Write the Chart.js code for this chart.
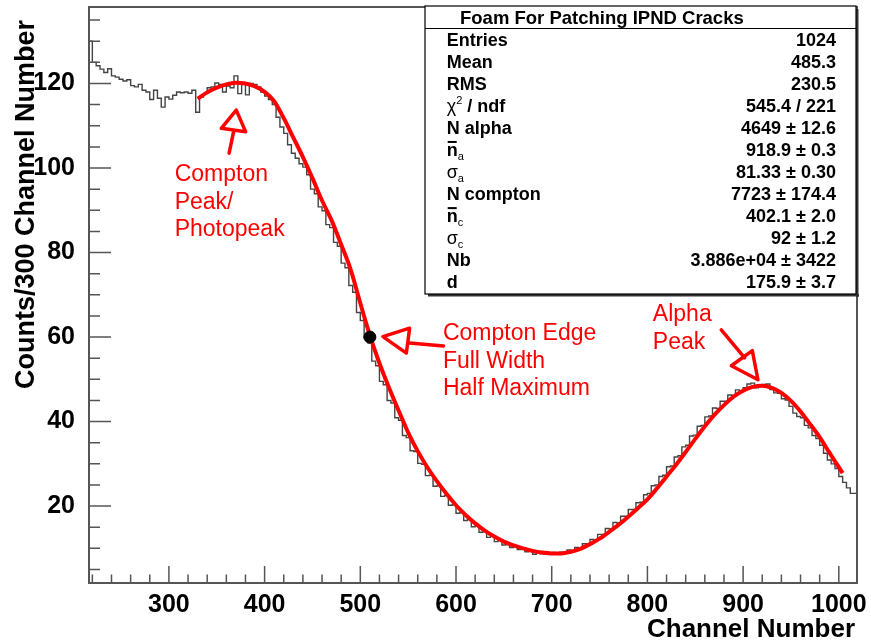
<!DOCTYPE html>
<html>
<head>
<meta charset="utf-8">
<script src="https://cdn.jsdelivr.net/npm/chart.js@4.4.0/dist/chart.umd.min.js"></script>
<style>
  html, body { margin: 0; padding: 0; background: #fff; }
  canvas { display: block; }
</style>
</head>
<body>
<canvas id="myChart" width="871" height="643"></canvas>
<script>
// histogram: bins of 4 channels starting at channel 216
const binStart = 216;
const binWidth = 4;
const counts = [
  131.5, 130.0, 125.0, 124.2, 123.4, 122.6, 123.5, 121.8, 121.5, 121.0,
  120.6, 120.9, 119.5, 119.2, 119.8, 118.4, 118.0, 116.2, 118.4, 116.5,
  114.4, 116.8, 116.3, 117.2, 118.0, 117.8, 118.0, 117.7, 118.4, 113.2,
  116.8, 117.6, 119.0, 119.2, 120.1, 119.8, 118.0, 119.4, 119.0, 121.8,
  117.6, 120.0, 117.3, 120.0, 119.8, 119.2, 118.0, 117.0, 116.2, 115.0,
  112.0, 109.7, 108.2, 105.5, 103.5, 102.3,
  101.0, 100.2, 98.4, 95.0, 93.9, 90.8, 89.9, 86.6, 85.9, 82.4,
  81.5, 77.5, 76.4, 72.2, 70.6, 65.8, 63.9, 59.8, 58.6, 54.3,
  53.2, 49.5, 48.7, 45.0, 44.4, 40.9, 40.3, 36.7, 36.2, 33.1,
  32.9, 30.1, 29.9, 27.2, 27.3, 24.7, 24.8, 22.3, 22.5, 20.2,
  20.3, 18.3, 18.5, 16.6, 16.9, 15.1, 15.4, 13.8, 14.1, 12.6,
  13.0, 11.6, 12.0, 10.8, 11.2, 10.2, 10.6, 9.7, 10.0, 9.2,
  9.6, 8.6, 9.2, 8.7, 9.0, 8.6, 9.0, 8.7, 9.1, 8.9,
  9.6, 9.4, 10.2, 10.1, 11.1, 11.0, 12.1, 12.0, 13.3, 13.3,
  14.7, 14.6, 16.1, 16.0, 17.6, 17.6, 19.2, 19.2, 20.8, 20.9,
  22.7, 23.0, 24.8, 25.0, 27.0, 27.3, 29.3, 29.5, 31.6, 31.9,
  34.0, 34.4, 36.6, 36.8, 38.9, 39.1, 41.1, 41.3, 43.2, 43.1,
  44.8, 44.8, 46.3, 46.2, 47.5, 47.3, 48.0, 48.9, 49.1, 48.0,
  48.7, 48.8, 48.9, 47.6, 46.8, 46.7, 45.4, 45.1, 43.6, 42.0,
  41.2, 40.9, 39.1, 38.5, 36.7, 36.0, 34.4, 32.5, 30.9, 30.0,
  28.9, 27.0, 25.6, 24.3, 23.0
];

// fitted curve
const fitChannels = [
  330, 340, 350, 360, 370, 380, 390, 400, 410, 420, 430, 440, 450, 460, 470,
  480, 490, 500, 510, 520, 530, 540, 550, 560, 570, 580, 590, 600, 610, 620,
  630, 640, 650, 660, 670, 680, 690, 700, 710, 720, 730, 740, 750, 760, 770,
  780, 790, 800, 810, 820, 830, 840, 850, 860, 870, 880, 890, 900, 910, 920,
  930, 940, 950, 960, 970, 980, 990, 1000, 1004
];
const fitValues = [
  116.4, 117.9, 119.0, 119.8, 120.2, 120.0, 119.3, 118.0, 115.8, 111.8, 107.2, 102.6, 97.6, 92.3, 87.6,
  81.9, 75.9, 68.0, 60.4, 53.8, 48.0, 42.6, 37.4, 33.0, 29.2, 25.9, 22.9, 20.2, 17.9, 15.9,
  14.2, 12.8, 11.6, 10.7, 10.0, 9.4, 9.0, 8.8, 8.8, 9.2, 9.9, 11.0, 12.3, 13.9, 15.6,
  17.5, 19.5, 21.6, 24.2, 27.0, 29.8, 32.8, 35.9, 38.9, 41.6, 43.9, 45.9, 47.3, 48.2, 48.5,
  48.0, 46.8, 44.9, 42.4, 39.4, 36.3, 32.7, 29.2, 27.8
];

// half maximum point on the compton edge
const fwhmChannel = [510];
const fwhmCounts = [60];

const xTicks = [300, 400, 500, 600, 700, 800, 900, 1000];
const yTicks = [20, 40, 60, 80, 100, 120];

const statsTitle = 'Foam For Patching IPND Cracks';
const statsLabels = ['Entries', 'Mean', 'RMS', 'chi2', 'N alpha', 'nbar_a', 'sigma_a',
  'N compton', 'nbar_c', 'sigma_c', 'Nb', 'd'];
const statsValues = ['1024', '485.3', '230.5', '545.4 / 221', '4649 \u00b1 12.6', '918.9 \u00b1 0.3',
  '81.33 \u00b1 0.30', '7723 \u00b1 174.4', '402.1 \u00b1 2.0', '92 \u00b1 1.2', '3.886e+04 \u00b1 3422', '175.9 \u00b1 3.7'];

// red hand written notes, in data coordinates
const notes = [
  { lines: ['Compton', 'Peak/', 'Photopeak'], at: [306, 96.9] },
  { lines: ['Compton Edge', 'Full Width', 'Half Maximum'], at: [586.3, 59.3] },
  { lines: ['Alpha', 'Peak'], at: [805.7, 63.7] }
];
const arrows = [
  { stem: [[362.9, 103.5], [367.6, 108.6]], head: [[370.4, 113.7], [354.7, 109.4], [380.1, 108.6]] },
  { stem: [[587.0, 57.9], [551.5, 58.6]], head: [[523.6, 60.1], [551.5, 62.1], [548.1, 56.2]] },
  { stem: [[877.2, 61.7], [901.6, 55.1]], head: [[915.5, 49.9], [887.7, 53.2], [909.6, 56.8]] }
];

const FONT = '"Liberation Sans", Arial, Helvetica, sans-serif';

const histPoints = counts.map((c, i) => ({ x: binStart + i * binWidth, y: c }));
histPoints.push({ x: binStart + counts.length * binWidth, y: counts[counts.length - 1] });

const fitPoints = fitChannels.map((ch, i) => ({ x: ch, y: fitValues[i] }));
const dotPoints = fwhmChannel.map((ch, i) => ({ x: ch, y: fwhmCounts[i] }));

// frame, ROOT-style inward ticks, axis titles
const framePlugin = {
  id: 'frame',
  afterDatasetsDraw(chart) {
    const { ctx, chartArea: a, scales: { x, y } } = chart;
    ctx.save();
    ctx.strokeStyle = '#555';
    ctx.lineWidth = 1.5;
    ctx.beginPath();
    for (let v = 220; v <= 1019; v += 20) {
      const px = x.getPixelForValue(v);
      const len = v % 100 === 0 ? 17 : 8.5;
      ctx.moveTo(px, a.bottom);
      ctx.lineTo(px, a.bottom - len);
    }
    for (let v = 5; v <= 138; v += 5) {
      const py = y.getPixelForValue(v);
      const len = v % 20 === 0 ? 22 : 11;
      ctx.moveTo(a.left, py);
      ctx.lineTo(a.left + len, py);
    }
    ctx.stroke();
    ctx.lineWidth = 2;
    ctx.strokeRect(a.left, a.top, a.right - a.left, a.bottom - a.top);

    ctx.fillStyle = '#000';
    ctx.font = 'bold 26px ' + FONT;
    ctx.textAlign = 'right';
    ctx.textBaseline = 'alphabetic';
    ctx.fillText('Channel Number', 855, 637);
    ctx.font = 'bold 27px ' + FONT;
    ctx.translate(34, 20);
    ctx.rotate(-Math.PI / 2);
    ctx.fillText('Counts/300 Channel Number', 0, 0);
    ctx.restore();
  }
};

function drawParts(ctx, x, y, parts) {
  let cx = x;
  parts.forEach(p => {
    ctx.font = p.font;
    ctx.fillText(p.text, cx, y + (p.dy || 0));
    const w = ctx.measureText(p.text).width;
    if (p.bar) {
      ctx.fillRect(cx + 1, y - 15, w - 2, 2);
    }
    cx += w + (p.gap || 0);
  });
}

const statsPlugin = {
  id: 'stats',
  afterDatasetsDraw(chart) {
    const ctx = chart.ctx;
    const L = 425, T = 6, R = 856, B = 294;
    ctx.save();
    ctx.fillStyle = '#333';
    ctx.fillRect(L + 3, B, R - L, 2.5);
    ctx.fillRect(R, T + 3, 2.5, B - T);
    ctx.fillStyle = '#fff';
    ctx.fillRect(L, T, R - L, B - T);
    ctx.strokeStyle = '#000';
    ctx.lineWidth = 1.2;
    ctx.strokeRect(L, T, R - L, B - T);
    ctx.beginPath();
    ctx.moveTo(L, 28.5);
    ctx.lineTo(R, 28.5);
    ctx.stroke();

    ctx.fillStyle = '#000';
    ctx.textBaseline = 'alphabetic';
    ctx.textAlign = 'left';
    ctx.font = 'bold 18.5px ' + FONT;
    ctx.fillText(statsTitle, 460, 23.5);

    const bold = 'bold 18px ' + FONT;
    const reg = '18px ' + FONT;
    const small = '11px ' + FONT;
    statsLabels.forEach((lab, i) => {
      const by = 45.7 + i * 22.05;
      ctx.textAlign = 'left';
      if (lab === 'chi2') {
        drawParts(ctx, 446.7, by, [
          { text: '\u03c7', font: reg },
          { text: '2', font: small, dy: -8 },
          { text: ' / ndf', font: bold }
        ]);
      } else if (lab.startsWith('nbar_')) {
        drawParts(ctx, 446.7, by, [
          { text: 'n', font: bold, bar: true },
          { text: lab.slice(5), font: small, dy: 4 }
        ]);
      } else if (lab.startsWith('sigma_')) {
        drawParts(ctx, 446.7, by, [
          { text: '\u03c3', font: reg },
          { text: lab.slice(6), font: small, dy: 4 }
        ]);
      } else {
        ctx.font = bold;
        ctx.fillText(lab, 446.7, by);
      }
      ctx.textAlign = 'right';
      ctx.font = bold;
      ctx.fillText(statsValues[i], 836, by);
    });
    ctx.restore();
  }
};

const notesPlugin = {
  id: 'notes',
  afterDraw(chart) {
    const { ctx, scales: { x, y } } = chart;
    const P = ([a, b]) => [x.getPixelForValue(a), y.getPixelForValue(b)];
    ctx.save();
    ctx.fillStyle = '#ff0000';
    ctx.strokeStyle = '#ff0000';
    ctx.font = '23px ' + FONT;
    ctx.textAlign = 'left';
    notes.forEach(n => {
      const [px, py] = P(n.at);
      n.lines.forEach((t, i) => ctx.fillText(t, px, py + i * 27.5));
    });
    ctx.lineWidth = 3.5;
    ctx.lineJoin = 'round';
    ctx.lineCap = 'round';
    arrows.forEach(ar => {
      ctx.beginPath();
      const s0 = P(ar.stem[0]), s1 = P(ar.stem[1]);
      ctx.moveTo(s0[0], s0[1]);
      ctx.lineTo(s1[0], s1[1]);
      const h = ar.head.map(P);
      ctx.moveTo(h[0][0], h[0][1]);
      ctx.lineTo(h[1][0], h[1][1]);
      ctx.lineTo(h[2][0], h[2][1]);
      ctx.closePath();
      ctx.stroke();
    });
    ctx.restore();
  }
};

new Chart('myChart', {
  type: 'line',
  data: {
    datasets: [
      {
        data: dotPoints,
        showLine: false,
        pointRadius: 6,
        pointBackgroundColor: '#000',
        pointBorderColor: '#000',
        order: 0
      },
      {
        data: fitPoints,
        borderColor: '#ff0000',
        borderWidth: 4,
        pointRadius: 0,
        tension: 0.4,
        cubicInterpolationMode: 'monotone',
        fill: false,
        order: 1
      },
      {
        data: histPoints,
        borderColor: '#444',
        borderWidth: 1.4,
        pointRadius: 0,
        stepped: 'after',
        fill: false,
        order: 2
      }
    ]
  },
  options: {
    responsive: false,
    animation: false,
    layout: { padding: { left: 0, right: 14, top: 7, bottom: 0 } },
    plugins: { legend: { display: false }, tooltip: { enabled: false } },
    scales: {
      x: {
        type: 'linear',
        min: 216.5,
        max: 1019,
        afterBuildTicks: s => { s.ticks = xTicks.map(v => ({ value: v })); },
        afterFit: s => { s.height = 60; s.paddingLeft = 0; s.paddingRight = 0; },
        grid: { display: false, drawTicks: false },
        border: { display: false },
        ticks: {
          color: '#000',
          font: { family: FONT, size: 25, weight: 'bold' },
          padding: 7,
          maxRotation: 0,
          autoSkip: false,
          callback: v => String(v)
        }
      },
      y: {
        type: 'linear',
        min: 1.8,
        max: 138.1,
        afterBuildTicks: s => { s.ticks = yTicks.map(v => ({ value: v })); },
        afterFit: s => { s.width = 89; s.paddingTop = 0; s.paddingBottom = 0; },
        grid: { display: false, drawTicks: false },
        border: { display: false },
        ticks: {
          color: '#000',
          font: { family: FONT, size: 25, weight: 'bold' },
          padding: 14,
          autoSkip: false,
          callback: v => String(v)
        }
      }
    }
  },
  plugins: [framePlugin, statsPlugin, notesPlugin]
});
</script>
</body>
</html>
